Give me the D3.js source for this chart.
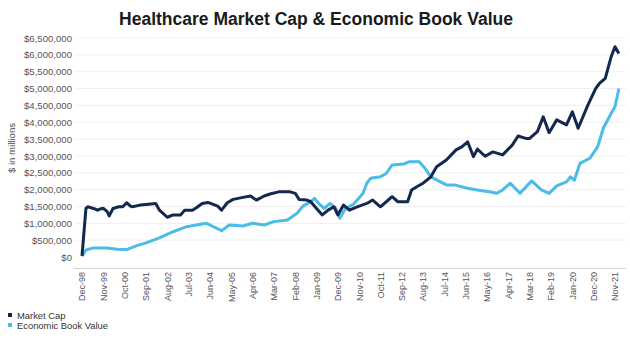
<!DOCTYPE html>
<html><head><meta charset="utf-8">
<script src="https://cdn.jsdelivr.net/npm/d3@7"></script>
<style>body{margin:0;background:#fff}svg{display:block;font-family:"Liberation Sans",Arial,sans-serif}</style>
</head><body><svg id="c" width="630" height="343"></svg>
<script>
const title = "Healthcare Market Cap & Economic Book Value";
const seriesNames = ["Market Cap", "Economic Book Value"];
const xTickLabels = ["Dec-98","Nov-99","Oct-00","Sep-01","Aug-02","Jul-03","Jun-04","May-05","Apr-06","Mar-07","Feb-08","Jan-09","Dec-09","Nov-10","Oct-11","Sep-12","Aug-13","Jul-14","Jun-15","May-16","Apr-17","Mar-18","Feb-19","Jan-20","Dec-20","Nov-21"];
const yTicks = [0,500000,1000000,1500000,2000000,2500000,3000000,3500000,4000000,4500000,5000000,5500000,6000000,6500000];

const mcDates = ["1998-12","1999-02","1999-03","1999-06","1999-08","1999-09","1999-11","2000-01","2000-02","2000-04","2000-07","2000-09","2000-11","2001-01","2001-02","2001-06","2001-09","2002-02","2002-04","2002-08","2002-11","2003-03","2003-05","2003-09","2003-11","2004-02","2004-05","2004-10","2004-12","2005-03","2005-06","2005-11","2006-03","2006-06","2006-10","2007-01","2007-06","2007-11","2008-02","2008-04","2008-08","2008-10","2009-01","2009-04","2009-07","2009-10","2009-12","2010-03","2010-06","2010-10","2011-03","2011-06","2011-10","2012-01","2012-04","2012-07","2012-12","2013-02","2013-05","2013-08","2013-12","2014-03","2014-08","2015-01","2015-04","2015-07","2015-10","2015-12","2016-04","2016-08","2017-01","2017-06","2017-09","2018-01","2018-03","2018-07","2018-10","2019-01","2019-05","2019-10","2020-01","2020-04","2020-09","2021-01","2021-03","2021-06","2021-09","2021-11","2022-01"];
const mcValues = [30000,1445000,1490000,1440000,1390000,1415000,1445000,1345000,1220000,1440000,1490000,1490000,1610000,1510000,1490000,1540000,1560000,1590000,1390000,1180000,1250000,1250000,1390000,1390000,1460000,1590000,1620000,1510000,1390000,1610000,1710000,1770000,1810000,1690000,1810000,1870000,1940000,1940000,1890000,1710000,1690000,1640000,1440000,1250000,1390000,1490000,1250000,1540000,1390000,1490000,1590000,1690000,1490000,1640000,1790000,1640000,1640000,1990000,2090000,2190000,2380000,2680000,2880000,3180000,3270000,3420000,2980000,3200000,2990000,3120000,3030000,3320000,3590000,3520000,3520000,3720000,4160000,3690000,4070000,3920000,4310000,3820000,4510000,5000000,5150000,5300000,5940000,6240000,6040000];

const ebvDates = ["1998-12","1999-02","1999-06","2000-01","2000-06","2000-11","2001-04","2001-09","2002-04","2002-11","2003-06","2003-11","2004-04","2004-06","2004-12","2005-04","2005-11","2006-04","2006-10","2007-03","2007-10","2008-03","2008-06","2008-10","2008-12","2009-02","2009-05","2009-08","2009-11","2010-01","2010-04","2010-08","2011-01","2011-03","2011-05","2011-10","2012-01","2012-04","2012-10","2013-01","2013-06","2013-09","2013-12","2014-05","2014-08","2014-12","2015-07","2015-12","2016-07","2016-10","2017-01","2017-05","2017-10","2018-04","2018-09","2019-01","2019-05","2019-10","2019-12","2020-02","2020-05","2020-10","2021-02","2021-05","2021-09","2021-11","2022-01"];
const ebvValues = [20000,210000,270000,265000,230000,220000,330000,420000,570000,750000,900000,950000,1000000,950000,780000,950000,920000,1000000,950000,1050000,1100000,1300000,1510000,1640000,1740000,1590000,1440000,1590000,1440000,1150000,1440000,1560000,1890000,2190000,2340000,2380000,2480000,2730000,2760000,2830000,2830000,2630000,2380000,2230000,2140000,2140000,2040000,1990000,1930000,1890000,1990000,2190000,1890000,2260000,1990000,1890000,2110000,2230000,2380000,2280000,2780000,2930000,3270000,3820000,4260000,4460000,5000000];

const colors = ["#13284d", "#4bbbe8"];
const parseM = d3.timeParse("%Y-%m");
const parseTick = d3.timeParse("%b-%y");
const svg = d3.select("#c");

const x = d3.scaleTime().domain([parseTick(xTickLabels[0]), parseTick(xTickLabels[xTickLabels.length-1])]).range([82, 615]);
const y = d3.scaleLinear().domain([0, 6500000]).range([257, 38]);

// title
svg.append("text").attr("x", 316).attr("y", 25).attr("text-anchor", "middle")
  .attr("font-size", 17.5).attr("font-weight", "bold").attr("fill", "#1a1a1a").text(title);

// gridlines
svg.append("g").selectAll("line").data(yTicks.slice(1)).join("line")
  .attr("x1", 76).attr("x2", 626).attr("y1", d => y(d)).attr("y2", d => y(d))
  .attr("stroke", "#efefef").attr("stroke-width", 1);

// x axis baseline
svg.append("line").attr("x1", 74).attr("x2", 626).attr("y1", 268.5).attr("y2", 268.5)
  .attr("stroke", "#d4d4d4").attr("stroke-width", 1.2);

// y axis labels
const yAxis = d3.axisLeft(y).tickValues(yTicks).tickFormat(d => "$" + d3.format(",")(d)).tickSize(0).tickPadding(0);
const gy = svg.append("g").attr("transform", "translate(72,0)").call(yAxis);
gy.select(".domain").remove();
gy.selectAll("text").attr("font-size", 9.6).attr("fill", "#555").attr("font-family", "Liberation Sans, Arial, sans-serif");

// y axis title
svg.append("text").attr("transform", "translate(15,148) rotate(-90)").attr("text-anchor", "middle")
  .attr("font-size", 9.6).attr("fill", "#444").text("$ in millions");

// x axis labels
const xAxis = d3.axisBottom(x).tickValues(xTickLabels.map(parseTick)).tickFormat(d3.timeFormat("%b-%y")).tickSize(0);
const gx = svg.append("g").attr("transform", "translate(0,272)").call(xAxis);
gx.select(".domain").remove();
gx.selectAll("text").attr("font-size", 9).attr("fill", "#555").attr("font-family", "Liberation Sans, Arial, sans-serif")
  .attr("text-anchor", "end").attr("dy", "0.32em").attr("transform", "rotate(-90)").attr("x", 0).attr("y", 0);

// lines
const line = d3.line().x(d => x(d[0])).y(d => y(d[1]));
const series = [
  d3.zip(ebvDates.map(parseM), ebvValues),
  d3.zip(mcDates.map(parseM), mcValues)
];
svg.append("path").datum(series[0]).attr("d", line).attr("fill", "none")
  .attr("stroke", colors[1]).attr("stroke-width", 3).attr("stroke-linejoin", "round");
svg.append("path").datum(series[1]).attr("d", line).attr("fill", "none")
  .attr("stroke", colors[0]).attr("stroke-width", 3).attr("stroke-linejoin", "round");

// legend
const lg = svg.append("g");
seriesNames.forEach((n, i) => {
  lg.append("rect").attr("x", 8).attr("y", 313 + i * 10).attr("width", 4).attr("height", 4).attr("fill", colors[i]);
  lg.append("text").attr("x", 17).attr("y", 318.5 + i * 10).attr("font-size", 9.4).attr("fill", "#333").text(n);
});
</script></body></html>
